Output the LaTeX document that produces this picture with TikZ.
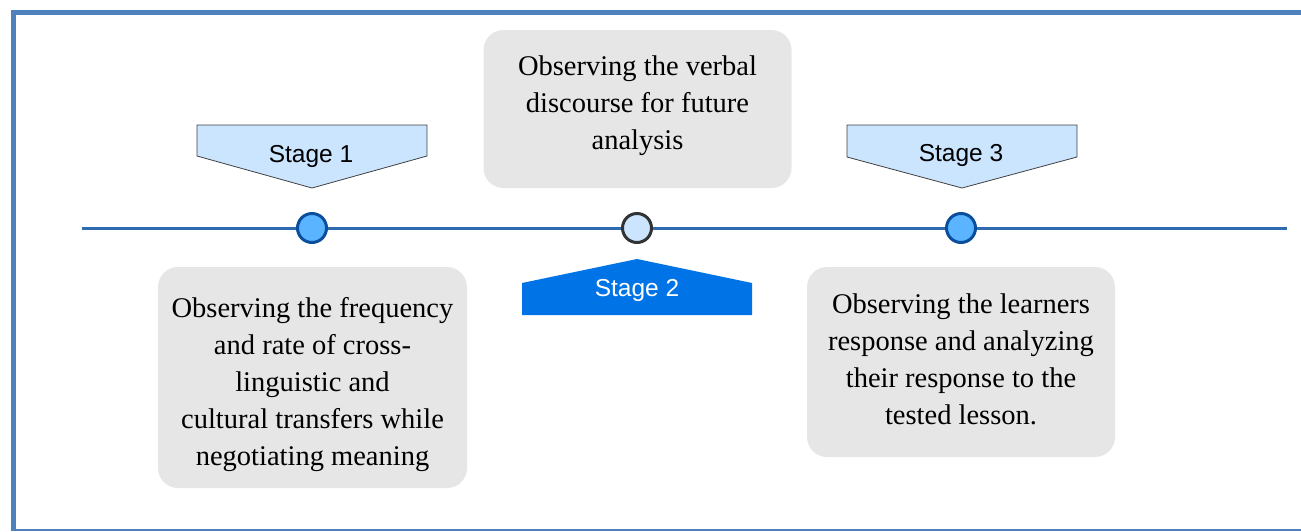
\documentclass[tikz,border=0pt]{standalone}
\usepackage{fontspec}
\setmainfont{Liberation Serif}
\newfontfamily\stagefont{Liberation Sans}
\usetikzlibrary{positioning,calc}

\definecolor{framecol}{HTML}{4F81BD}
\definecolor{linecol}{HTML}{2E6BB0}
\definecolor{dotfill}{HTML}{5BB4FF}
\definecolor{dotdraw}{HTML}{0B4F9C}
\definecolor{paleblue}{HTML}{CCE5FF}
\definecolor{boxgray}{HTML}{E6E6E6}
\definecolor{deepblue}{HTML}{0073E6}

\begin{document}
\begin{tikzpicture}[
    x=1pt, y=-1pt,
    infobox/.style={
        rectangle,
        fill=boxgray,
        rounded corners=20pt,
        inner sep=0pt
    },
    infotext/.style={
        align=center,
        inner sep=0pt,
        font=\fontsize{28.5}{37}\selectfont
    },
    dot/.style={circle, fill=dotfill, draw=dotdraw, line width=3pt, minimum size=29pt, inner sep=0pt},
    flag/.style={fill=paleblue, draw=black!75, line width=0.8pt},
    stagetext/.style={font=\stagefont\fontsize{24.5}{28}\selectfont}
]
\useasboundingbox (0,0) rectangle (1301,531);

% frame
\draw[framecol, line width=5pt] (13,531) -- (13,12.5) -- (1301,12.5);
\draw[framecol, line width=2pt] (13,530) -- (1301,530);

% timeline
\coordinate (tlstart) at (82,228);
\coordinate (tlend) at (1287,228);
\draw[linecol, line width=3pt] (tlstart) -- (tlend);

% stage dots
\node[dot] (dot1) at (312,228) {};
\node[dot, fill=paleblue, draw=black!80] (dot2) at (637,228) {};
\node[dot] (dot3) at (961,228) {};

% stage flags
\draw[flag] (197,125) -- (427,125) -- (427,156) -- (312,188) -- (197,156) -- cycle;
\node[stagetext] (stage1) at (311,156) {Stage 1};
\draw[flag] (847,125) -- (1077,125) -- (1077,157) -- (962,188) -- (847,157) -- cycle;
\node[stagetext] (stage3) at (961,155) {Stage 3};
\fill[deepblue] (522,315) -- (522,283) -- (637,259) -- (752,283) -- (752,315) -- cycle;
\node[stagetext, text=white] (stage2) at (637,290) {Stage 2};

% descriptions
\node[infobox, minimum width=308pt, minimum height=158pt] (verbal) at (637.5,109) {};
\node[infotext] (verbaltext) at ($(verbal.center)+(0,-3)$)
    {Observing the verbal\\discourse for future\\analysis};
\node[infobox, minimum width=309pt, minimum height=221pt] (transfer) at (312.5,377.5) {};
\node[infotext] (transfertext) at ($(transfer.center)+(0,7)$)
    {Observing the frequency\\and rate of cross-\\linguistic and\\cultural transfers while\\negotiating meaning};
\node[infobox, minimum width=308pt, minimum height=190pt] (response) at (961,362) {};
\node[infotext] (responsetext) at ($(response.center)+(0,-3)$)
    {Observing the learners\\response and analyzing\\their response to the\\tested lesson.};

\end{tikzpicture}
\end{document}
